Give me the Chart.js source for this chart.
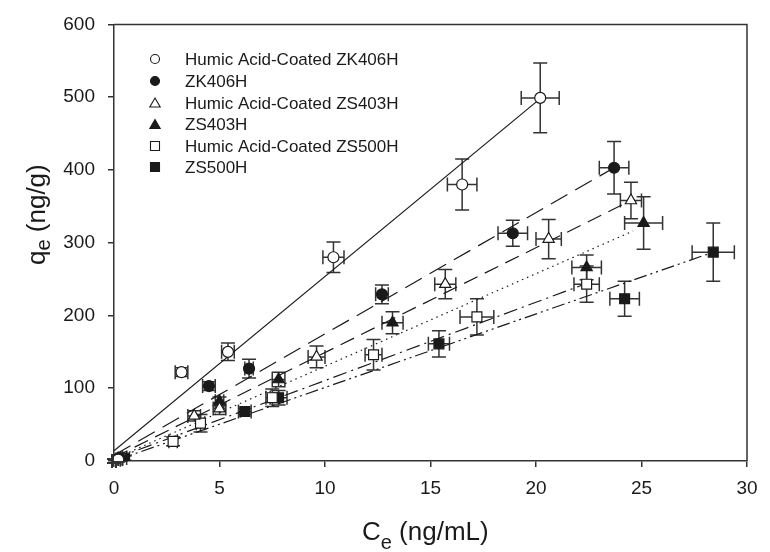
<!DOCTYPE html>
<html>
<head>
<meta charset="utf-8">
<script src="https://cdn.jsdelivr.net/npm/chart.js@4/dist/chart.umd.min.js"></script>
<style>
    body { margin: 0; background: #fff; }
    #wrap { width: 770px; height: 552px; position: relative; }
</style>
</head>
<body>
<div id="wrap"><canvas id="isoChart"></canvas></div>
<script>
///////////////////////////////
//Data
///////////////////////////////
const seriesNames = [
    'Humic Acid-Coated ZK406H',
    'ZK406H',
    'Humic Acid-Coated ZS403H',
    'ZS403H',
    'Humic Acid-Coated ZS500H',
    'ZS500H'
];

const haZK406H_ce  = [0, 0.2, 3.2, 5.4, 10.4, 16.5, 20.2];
const haZK406H_qe  = [0, 2, 122, 150, 280, 380, 499];
const haZK406H_xe  = [0.1, 0.1, 0.3, 0.3, 0.5, 0.7, 0.9];
const haZK406H_ye  = [3, 3, 6, 12, 21, 35, 48];

const zk406H_ce    = [0, 0.3, 4.5, 6.4, 12.7, 18.9, 23.7];
const zk406H_qe    = [0, 3, 103, 127, 229, 313, 403];
const zk406H_xe    = [0.1, 0.1, 0.3, 0.2, 0.3, 0.7, 0.7];
const zk406H_ye    = [3, 3, 6, 13, 13, 18, 36];

const haZS403H_ce  = [0, 0.2, 3.8, 5.0, 9.6, 15.7, 20.6, 24.5];
const haZS403H_qe  = [0, 2, 62, 72, 143, 243, 305, 358];
const haZS403H_xe  = [0.1, 0.1, 0.3, 0.3, 0.4, 0.5, 0.6, 0.5];
const haZS403H_ye  = [3, 3, 7, 8, 15, 20, 27, 25];

const zs403H_ce    = [0, 0.3, 5.0, 7.8, 13.2, 22.4, 25.1];
const zs403H_qe    = [0, 3, 82, 112, 190, 266, 327];
const zs403H_xe    = [0.1, 0.1, 0.2, 0.3, 0.5, 0.7, 0.9];
const zs403H_ye    = [3, 3, 6, 10, 15, 17, 36];

const haZS500H_ce  = [0, 0.3, 2.8, 4.1, 7.5, 12.3, 17.2, 22.4];
const haZS500H_qe  = [0, 3, 27, 52, 87, 146, 198, 243];
const haZS500H_xe  = [0.1, 0.1, 0.2, 0.2, 0.3, 0.4, 0.8, 0.6];
const haZS500H_ye  = [3, 3, 6, 12, 12, 21, 25, 25];

const zs500H_ce    = [0, 0.5, 6.2, 7.8, 15.4, 24.2, 28.4];
const zs500H_qe    = [0, 4, 68, 87, 161, 223, 287];
const zs500H_xe    = [0.1, 0.1, 0.3, 0.4, 0.5, 0.7, 1.0];
const zs500H_ye    = [3, 3, 4, 10, 18, 24, 40];

// fitted lines, start and end as drawn in the figure
const fitCe = [[0, 20.2], [0, 23.7], [0, 24.5], [0, 24.6], [0, 22.4], [0, 28.4]];
const fitQe = [[14, 498], [8, 403], [5, 358], [3, 316], [3, 244], [0, 287]];

const xTicks = [0, 5, 10, 15, 20, 25, 30];
const yTicks = [0, 100, 200, 300, 400, 500, 600];

///////////////////////////////
//Styles
///////////////////////////////
const INK = '#1a1a1a';
const FONT = '"Liberation Sans", Arial, sans-serif';

const markerStyle = [
    { shape: 'circle',   fill: '#fff', r: 5.5 },
    { shape: 'circle',   fill: INK,    r: 5.5 },
    { shape: 'triangle', fill: '#fff', r: 6.5 },
    { shape: 'triangle', fill: INK,    r: 6.5 },
    { shape: 'rect',     fill: '#fff', r: 7 },
    { shape: 'rect',     fill: INK,    r: 7 }
];
const fitDash = [
    [],
    [19, 9],
    [15, 8],
    [1.5, 4],
    [14, 5, 2, 5],
    [13, 4, 2, 4, 2, 4]
];

function toPoints(xs, ys) {
    return xs.map((x, i) => ({ x: x, y: ys[i] }));
}

const pointSets = [
    [haZK406H_ce, haZK406H_qe, haZK406H_xe, haZK406H_ye],
    [zk406H_ce, zk406H_qe, zk406H_xe, zk406H_ye],
    [haZS403H_ce, haZS403H_qe, haZS403H_xe, haZS403H_ye],
    [zs403H_ce, zs403H_qe, zs403H_xe, zs403H_ye],
    [haZS500H_ce, haZS500H_qe, haZS500H_xe, haZS500H_ye],
    [zs500H_ce, zs500H_qe, zs500H_xe, zs500H_ye]
];

let datasets = [];
pointSets.forEach((s, i) => {
    const m = markerStyle[i];
    datasets.push({
        type: 'scatter',
        label: seriesNames[i],
        data: toPoints(s[0], s[1]),
        errX: s[2],
        errY: s[3],
        pointStyle: m.shape,
        pointRadius: m.r,
        pointBackgroundColor: m.fill,
        pointBorderColor: INK,
        pointBorderWidth: 1.2,
        order: 0
    });
});
fitCe.forEach((xs, i) => {
    datasets.push({
        type: 'line',
        label: 'fit ' + seriesNames[i],
        data: toPoints(xs, fitQe[i]),
        borderColor: INK,
        borderWidth: 1.2,
        borderDash: fitDash[i],
        pointRadius: 0,
        fill: false,
        order: 10
    });
});

///////////////////////////////
//Plugins: error bars, frame, legend, axis titles
///////////////////////////////
const errorBars = {
    id: 'errorBars',
    beforeDatasetsDraw(chart) {
        const ctx = chart.ctx;
        const xs = chart.scales.x, ys = chart.scales.y;
        const cap = 7;
        ctx.save();
        ctx.strokeStyle = '#333';
        ctx.lineWidth = 1.5;
        chart.data.datasets.forEach((ds) => {
            if (!ds.errX) return;
            ds.data.forEach((p, i) => {
                const px = xs.getPixelForValue(p.x), py = ys.getPixelForValue(p.y);
                const x1 = xs.getPixelForValue(p.x - ds.errX[i]), x2 = xs.getPixelForValue(p.x + ds.errX[i]);
                const y1 = ys.getPixelForValue(p.y - ds.errY[i]), y2 = ys.getPixelForValue(p.y + ds.errY[i]);
                ctx.beginPath();
                ctx.moveTo(px, y1); ctx.lineTo(px, y2);
                ctx.moveTo(px - cap, y1); ctx.lineTo(px + cap, y1);
                ctx.moveTo(px - cap, y2); ctx.lineTo(px + cap, y2);
                ctx.moveTo(x1, py); ctx.lineTo(x2, py);
                ctx.moveTo(x1, py - cap); ctx.lineTo(x1, py + cap);
                ctx.moveTo(x2, py - cap); ctx.lineTo(x2, py + cap);
                ctx.stroke();
            });
        });
        ctx.restore();
    }
};

function drawMarker(ctx, shape, x, y, r) {
    ctx.beginPath();
    if (shape === 'circle') {
        ctx.arc(x, y, r, 0, Math.PI * 2);
    } else if (shape === 'triangle') {
        ctx.moveTo(x, y - r);
        ctx.lineTo(x + r * 0.866, y + r * 0.5);
        ctx.lineTo(x - r * 0.866, y + r * 0.5);
        ctx.closePath();
    } else {
        ctx.rect(x - r, y - r, 2 * r, 2 * r);
    }
    ctx.fill();
    ctx.stroke();
}

const decorations = {
    id: 'decorations',
    afterDraw(chart) {
        const ctx = chart.ctx;
        const a = chart.chartArea;
        ctx.save();

        // top and right frame
        ctx.strokeStyle = '#333';
        ctx.lineWidth = 1.5;
        ctx.beginPath();
        ctx.moveTo(a.left, a.top);
        ctx.lineTo(a.right, a.top);
        ctx.lineTo(a.right, a.bottom);
        ctx.stroke();

        // legend
        const rowY = [59, 81, 103, 124.5, 146, 167];
        ctx.font = '17px ' + FONT;
        ctx.textBaseline = 'middle';
        ctx.textAlign = 'left';
        seriesNames.forEach((name, i) => {
            const m = markerStyle[i];
            ctx.fillStyle = m.fill;
            ctx.strokeStyle = INK;
            ctx.lineWidth = 1.1;
            const r = m.shape === 'circle' ? 4.5 : (m.shape === 'triangle' ? 6 : 4.5);
            drawMarker(ctx, m.shape, 155, rowY[i] + (m.shape === 'triangle' ? 1 : 0), r);
            ctx.fillStyle = INK;
            ctx.fillText(name, 185, rowY[i] + 1);
        });

        // x title: Ce (ng/mL)
        ctx.fillStyle = INK;
        ctx.textBaseline = 'alphabetic';
        ctx.font = '26px ' + FONT;
        let x0 = 362;
        ctx.fillText('C', x0, 540);
        x0 += ctx.measureText('C').width;
        ctx.font = '20px ' + FONT;
        ctx.fillText('e', x0, 549);
        x0 += ctx.measureText('e').width;
        ctx.font = '26px ' + FONT;
        ctx.fillText(' (ng/mL)', x0, 540);

        // y title: qe (ng/g)
        ctx.translate(45, 265);
        ctx.rotate(-Math.PI / 2);
        let t0 = 0;
        ctx.font = '26px ' + FONT;
        ctx.fillText('q', t0, 0);
        t0 += ctx.measureText('q').width;
        ctx.font = '20px ' + FONT;
        ctx.fillText('e', t0, 5);
        t0 += ctx.measureText('e').width;
        ctx.font = '26px ' + FONT;
        ctx.fillText(' (ng/g)', t0, 0);

        ctx.restore();
    }
};

///////////////////////////////
//Chart
///////////////////////////////
const tickFont = { family: FONT, size: 19 };

new Chart(document.getElementById('isoChart'), {
    data: { datasets: datasets },
    options: {
        responsive: true,
        maintainAspectRatio: false,
        animation: false,
        layout: { padding: { left: 0, right: 23, top: 18, bottom: 0 } },
        plugins: {
            legend: { display: false },
            tooltip: { enabled: false }
        },
        scales: {
            x: {
                type: 'linear',
                min: 0, max: 30,
                afterBuildTicks: (s) => { s.ticks = xTicks.map(v => ({ value: v })); },
                afterFit: (s) => { s.height = 91; },
                ticks: { font: tickFont, color: INK, padding: 10 },
                grid: { drawOnChartArea: false, drawTicks: true, tickLength: 6, color: '#333', lineWidth: 1.5 },
                border: { display: true, color: '#333', width: 1.5 }
            },
            y: {
                type: 'linear',
                min: 0, max: 600,
                afterBuildTicks: (s) => { s.ticks = yTicks.map(v => ({ value: v })); },
                afterFit: (s) => { s.width = 114; },
                ticks: { font: tickFont, color: INK, padding: 13 },
                grid: { drawOnChartArea: false, drawTicks: true, tickLength: 6, color: '#333', lineWidth: 1.5 },
                border: { display: true, color: '#333', width: 1.5 }
            }
        }
    },
    plugins: [errorBars, decorations]
});
</script>
</body>
</html>
